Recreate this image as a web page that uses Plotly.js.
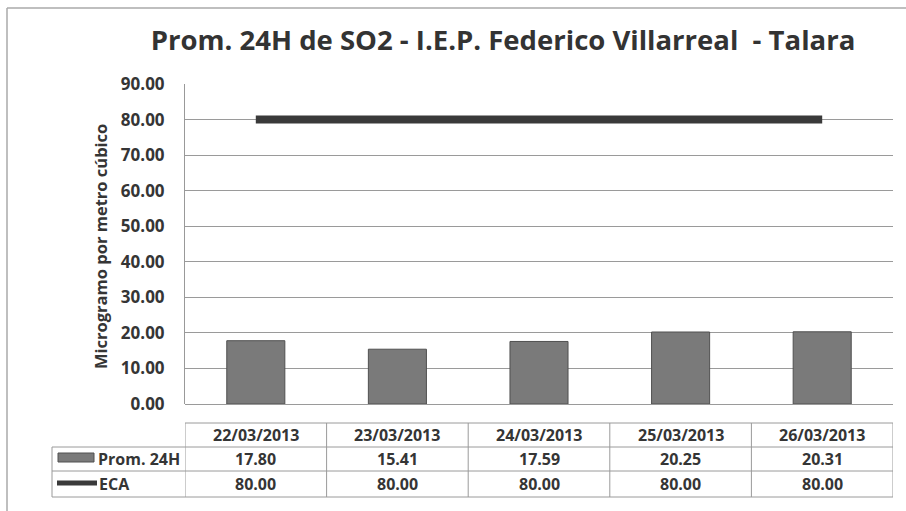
<!DOCTYPE html>
<html>
<head>
<meta charset="utf-8">
<script src="https://cdn.plot.ly/plotly-3.0.1.min.js"></script>
<style>html,body{margin:0;padding:0;background:#fff;}#chart{width:906px;height:511px;}</style>
</head>
<body>
<div id="chart"></div>
<script>
const categories = ['22/03/2013', '23/03/2013', '24/03/2013', '25/03/2013', '26/03/2013'];
const promValues = [17.80, 15.41, 17.59, 20.25, 20.31];
const ecaValues = [80.00, 80.00, 80.00, 80.00, 80.00];
const seriesNames = ['Prom. 24H', 'ECA'];
const chartTitle = 'Prom. 24H de SO2 - I.E.P. Federico Villarreal  - Talara';
const yTitle = 'Microgramo por metro cúbico';
const yTickValues = [0, 10, 20, 30, 40, 50, 60, 70, 80, 90];

// layout geometry (pixels)
const W = 906, H = 511;
const L = 185, R = 893, T = 84, B = 404;
const px = v => (v - L) / (R - L);
const py = v => (B - v) / (B - T);

const FONT = 'Open Sans';
const TXT = '#353535';
const GRID = '#9a9a9a';

const traces = [
  {
    type: 'bar', x: categories, y: promValues, name: seriesNames[0],
    width: 0.41,
    marker: {color: '#7a7a7a', line: {color: '#505050', width: 1}},
    showlegend: false, hoverinfo: 'x+y'
  },
  {
    type: 'scatter', mode: 'lines', x: categories, y: ecaValues, name: seriesNames[1],
    line: {color: '#3a3a3a', width: 8},
    showlegend: false, hoverinfo: 'x+y'
  }
];

const shapes = [];
const annotations = [];
const lineStyle = {color: GRID, width: 1};
function hline(y, x0, x1, ln) { shapes.push({type: 'line', xref: 'paper', yref: 'paper', x0: px(x0), x1: px(x1), y0: py(y), y1: py(y), line: ln || lineStyle}); }
function vline(xp, y0, y1, ln) { shapes.push({type: 'line', xref: 'paper', yref: 'paper', x0: px(xp), x1: px(xp), y0: py(y0), y1: py(y1), line: ln || lineStyle}); }

// outer border
hline(8, 7, 906, {color: '#aaa', width: 1.5});
vline(7, 8, 511, {color: '#aaa', width: 1.5});

// table grid
const rowTop = 423, rowH1 = 447, rowH2 = 471, rowBot = 497, labelLeft = 52;
hline(rowTop, L, R);
hline(rowH1, labelLeft, R);
hline(rowH2, labelLeft, R);
hline(rowBot, labelLeft, R);
vline(labelLeft, rowH1, rowBot);
for (let k = 0; k <= categories.length; k++) {
  shapes.push({type: 'line', xref: 'x', yref: 'paper', x0: k - 0.5, x1: k - 0.5, y0: py(rowTop), y1: py(rowBot), line: lineStyle});
}

// legend keys inside table
shapes.push({type: 'rect', xref: 'paper', yref: 'paper', x0: px(58), x1: px(94), y0: py(462), y1: py(453), fillcolor: '#7a7a7a', line: {color: '#505050', width: 1}});
shapes.push({type: 'line', xref: 'paper', yref: 'paper', x0: px(57), x1: px(97), y0: py(483), y1: py(483), line: {color: '#3a3a3a', width: 5}});

const tf = s => ({family: FONT, size: s, color: TXT, weight: 'bold'});
const rowsY = [(rowTop + rowH1) / 2, (rowH1 + rowH2) / 2, (rowH2 + rowBot) / 2];
categories.forEach((c, i) => {
  annotations.push({xref: 'x', yref: 'paper', x: c, y: py(rowsY[0]), text: c, showarrow: false, font: tf(16), xanchor: 'center', yanchor: 'middle'});
  annotations.push({xref: 'x', yref: 'paper', x: c, y: py(rowsY[1]), text: promValues[i].toFixed(2), showarrow: false, font: tf(16), xanchor: 'center', yanchor: 'middle'});
  annotations.push({xref: 'x', yref: 'paper', x: c, y: py(rowsY[2]), text: ecaValues[i].toFixed(2), showarrow: false, font: tf(16), xanchor: 'center', yanchor: 'middle'});
});
annotations.push({xref: 'paper', yref: 'paper', x: px(96), y: py(rowsY[1]), text: seriesNames[0], showarrow: false, font: tf(16), xanchor: 'left', yanchor: 'middle'});
annotations.push({xref: 'paper', yref: 'paper', x: px(97), y: py(rowsY[2]), text: seriesNames[1], showarrow: false, font: tf(16), xanchor: 'left', yanchor: 'middle'});

// y-axis title
annotations.push({xref: 'paper', yref: 'paper', x: px(100), y: py(247), text: yTitle, textangle: -90, showarrow: false, font: tf(16.5), xanchor: 'center', yanchor: 'middle'});

const layout = {
  width: W, height: H,
  margin: {l: L, r: W - R, t: T, b: H - B, pad: 0},
  paper_bgcolor: '#fff', plot_bgcolor: '#fff',
  title: {text: chartTitle, font: {family: FONT, size: 27.5, color: '#333', weight: 'bold'}, x: 503 / W, xanchor: 'center', y: 1 - 40 / H, yanchor: 'middle'},
  xaxis: {type: 'category', range: [-0.5, categories.length - 0.5], showticklabels: false, showgrid: false, zeroline: false, showline: false, fixedrange: true},
  yaxis: {range: [0, 90], tickvals: yTickValues, tickformat: '.2f', showgrid: true, gridcolor: GRID, gridwidth: 1,
          zeroline: true, zerolinecolor: GRID, zerolinewidth: 1,
          showline: true, linecolor: '#999', linewidth: 1, ticks: '', ticklabelstandoff: 16,
          tickfont: {family: FONT, size: 17, color: TXT, weight: 'bold'}, fixedrange: true},
  shapes: shapes,
  annotations: annotations,
  bargap: 0.59,
  showlegend: false
};

Plotly.newPlot('chart', traces, layout, {displayModeBar: false, staticPlot: true});
</script>
</body>
</html>
